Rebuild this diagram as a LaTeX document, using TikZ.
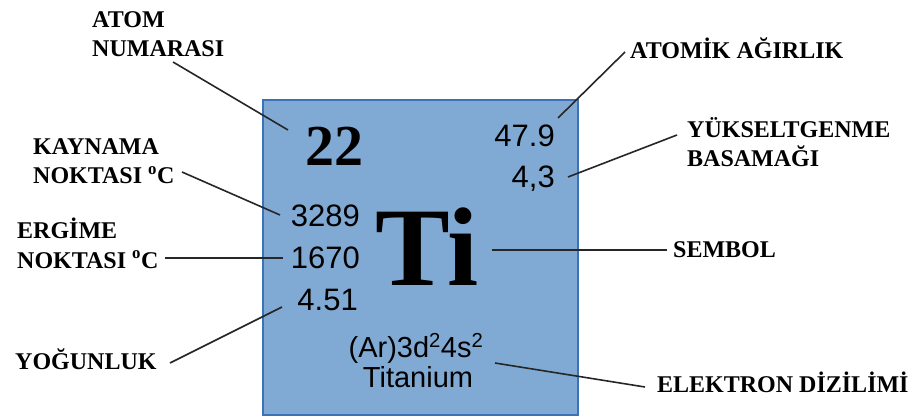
\documentclass[tikz,border=0pt]{standalone}
\usepackage{fontspec}
\setmainfont{Liberation Serif}
\newfontfamily\arial{Liberation Sans}
\definecolor{boxfill}{HTML}{80AAD4}
\definecolor{boxline}{HTML}{3C72B8}
\tikzset{
  lbl/.style={inner sep=0pt, anchor=base west, font=\fontsize{24}{29}\selectfont\bfseries},
  num/.style={inner sep=0pt, anchor=base east, font=\fontsize{31}{36}\selectfont\arial},
  lead/.style={draw=black!85, line width=1.6pt}
}
\begin{document}
\begin{tikzpicture}[x=1pt,y=-1pt]
\useasboundingbox (0,0) rectangle (919,417);
% element box
\node[draw=boxline, line width=2pt, fill=boxfill, minimum width=315pt, minimum height=315pt, inner sep=0pt, anchor=north west] (box) at (262,99) {};
% contents
\node[inner sep=0pt, anchor=base, font=\fontsize{58}{60}\selectfont\bfseries] (an) at (334,166) {22};
\node[num] (aw) at (555,147) {47.9};
\node[num] (ox) at (555,188) {4,3};
\node[num] (bp) at (360,226) {3289};
\node[num] (mp) at (360,268) {1670};
\node[num] (dn) at (358,310) {4.51};
\node[inner sep=0pt, anchor=base west, font=\fontsize{112}{112}\selectfont\bfseries] (sym) at (375,285) {Ti};
\node[inner sep=0pt, anchor=base, font=\fontsize{29}{32}\selectfont\arial] (ec) at (416,357) {(Ar)3d\textsuperscript{2}4s\textsuperscript{2}};
\node[inner sep=0pt, anchor=base, font=\fontsize{29}{32}\selectfont\arial] (nm) at (418,387) {Titanium};
% labels
\node[lbl] (l1a) at (92,28) {ATOM};
\node[lbl] (l1b) at (92,57) {NUMARASI};
\node[lbl] (l2a) at (33,155) {KAYNAMA};
\node[lbl] (l2b) at (33,184) {NOKTASI \textsuperscript{o}C};
\node[lbl] (l3a) at (17,238) {ERGİME};
\node[lbl] (l3b) at (17,268) {NOKTASI \textsuperscript{o}C};
\node[lbl] (l4) at (15,369) {YOĞUNLUK};
\node[lbl] (l5) at (630,59) {ATOMİK AĞIRLIK};
\node[lbl] (l6a) at (687,138) {YÜKSELTGENME};
\node[lbl] (l6b) at (687,167) {BASAMAĞI};
\node[lbl] (l7) at (673,258) {SEMBOL};
\node[lbl] (l8) at (657,392) {ELEKTRON DİZİLİMİ};
% connector ends
\coordinate (a1) at (173,62);  \coordinate (b1) at (288,130);
\coordinate (a2) at (182,172); \coordinate (b2) at (280,215);
\coordinate (a3) at (165,258); \coordinate (b3) at (283,258);
\coordinate (a4) at (170,363); \coordinate (b4) at (282,307);
\coordinate (a5) at (625,52);  \coordinate (b5) at (558,118);
\coordinate (a6) at (677,135); \coordinate (b6) at (568,177);
\coordinate (a7) at (667,250); \coordinate (b7) at (492,250);
\coordinate (a8) at (645,387); \coordinate (b8) at (495,363);
\foreach \i in {1,...,8} \draw[lead] (a\i) -- (b\i);
\end{tikzpicture}
\end{document}
